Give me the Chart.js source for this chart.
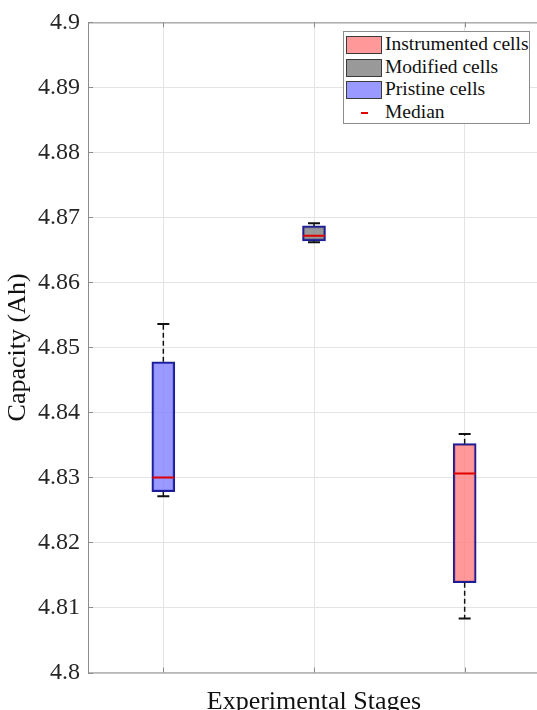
<!DOCTYPE html>
<html>
<head>
<meta charset="utf-8">
<script src="https://cdn.jsdelivr.net/npm/chart.js@4/dist/chart.umd.min.js"></script>
<style>
    html, body { margin: 0; padding: 0; background: white; overflow: hidden; }
    #wrap { position: relative; width: 537px; height: 710px; overflow: hidden; }
    #cap-chart { position: absolute; left: 0; top: 0; }
    #legend-box { position: absolute; left: 343px; top: 31px; width: 185px; height: 91px; border: 1px solid #8c8c8c; background: white; font-family: 'Liberation Serif', 'Times New Roman', serif; font-size: 19.5px; color: #111; }
    .lg-row { position: absolute; left: 0; width: 100%; height: 20px; }
    .lg-swatch { position: absolute; left: 2px; top: 0px; width: 34px; height: 16px; border: 1.3px solid #3a3a3a; }
    .lg-dash { position: absolute; left: 17px; top: 8px; width: 7px; height: 2.5px; background: #e00000; }
    .lg-text { position: absolute; left: 41px; top: -3px; line-height: 22px; white-space: nowrap; }
</style>
</head>
<body>
<div id="wrap">
    <canvas id="cap-chart" width="540" height="710" style="width:540px;height:710px;"></canvas>
    <div id="legend-box"></div>
</div>
<script>
// categories in x order (left to right)
const categories = ['Pristine cells', 'Modified cells', 'Instrumented cells'];
// box plot statistics (Ah)
const whisker_low = [4.8271, 4.8662, 4.8083];
const q1 = [4.8278, 4.8664, 4.8138];
const median = [4.8300, 4.8672, 4.8306];
const q3 = [4.8478, 4.8687, 4.8352];
const whisker_high = [4.8536, 4.8691, 4.8367];
const box_colors = ['rgba(128,128,255,0.8)', 'rgba(128,128,128,0.8)', 'rgba(255,128,128,0.8)'];
const y_ticks = [4.8, 4.81, 4.82, 4.83, 4.84, 4.85, 4.86, 4.87, 4.88, 4.89, 4.9];
const legend_order = ['Instrumented cells', 'Modified cells', 'Pristine cells', 'Median'];

const serif = "'Liberation Serif', 'Times New Roman', serif";
Chart.defaults.font.family = serif;

function box_datasets() {
    let sets = [];
    for (let i = 0; i < categories.length; i++) {
        sets.push({
            type: 'bar',
            label: categories[i],
            data: categories.map((c, j) => j === i ? [q1[i], q3[i]] : null),
            backgroundColor: box_colors[i],
            borderColor: '#1c1c96',
            borderWidth: 2,
            borderSkipped: false,
            barThickness: 23,
            grouped: false,
            order: 3
        });
    }
    return sets;
}

function whisker_points() {
    let pts = [];
    for (let i = 0; i < categories.length; i++) {
        pts.push({ x: categories[i], y: q3[i] });
        pts.push({ x: categories[i], y: whisker_high[i] });
        pts.push({ x: categories[i], y: null });
        pts.push({ x: categories[i], y: q1[i] });
        pts.push({ x: categories[i], y: whisker_low[i] });
        pts.push({ x: categories[i], y: null });
    }
    return pts;
}

// frame round the plot area and MATLAB style inward ticks
const frame_plugin = {
    id: 'frame',
    afterDraw(chart) {
        const ctx = chart.ctx;
        const a = chart.chartArea;
        const xs = chart.scales.x;
        const ys = chart.scales.y;
        ctx.save();
        ctx.strokeStyle = '#8c8c8c';
        ctx.lineWidth = 1;
        ctx.strokeRect(a.left + 0.5, a.top + 0.5, a.right - a.left - 1, a.bottom - a.top);
        ctx.beginPath();
        for (let i = 0; i < xs.ticks.length; i++) {
            let px = Math.round(xs.getPixelForTick(i)) + 0.5;
            ctx.moveTo(px, a.bottom);
            ctx.lineTo(px, a.bottom - 5);
            ctx.moveTo(px, a.top);
            ctx.lineTo(px, a.top + 5);
        }
        for (let i = 0; i < ys.ticks.length; i++) {
            let py = Math.round(ys.getPixelForTick(i)) + 0.5;
            ctx.moveTo(a.left, py);
            ctx.lineTo(a.left + 5, py);
        }
        ctx.stroke();
        ctx.restore();
    }
};

function plot_capacity() {
    let ctx = document.getElementById('cap-chart');
    let datasets = box_datasets();
    datasets.push({
        type: 'line',
        label: 'whiskers',
        data: whisker_points(),
        borderColor: '#111',
        borderWidth: 1.5,
        borderDash: [5, 3],
        pointRadius: 0,
        spanGaps: false,
        order: 2
    });
    datasets.push({
        type: 'line',
        label: 'upper cap',
        data: whisker_high,
        showLine: false,
        pointStyle: 'line',
        pointRadius: 6,
        borderColor: '#111',
        borderWidth: 2,
        order: 1
    });
    datasets.push({
        type: 'line',
        label: 'lower cap',
        data: whisker_low,
        showLine: false,
        pointStyle: 'line',
        pointRadius: 6,
        borderColor: '#111',
        borderWidth: 2,
        order: 1
    });
    datasets.push({
        type: 'line',
        label: 'Median',
        data: median,
        showLine: false,
        pointStyle: 'line',
        pointRadius: 11,
        borderColor: '#e00000',
        borderWidth: 2,
        order: 0
    });

    new Chart(ctx, {
        type: 'bar',
        data: { labels: categories, datasets: datasets },
        options: {
            responsive: false,
            devicePixelRatio: 1,
            animation: false,
            events: [],
            layout: { autoPadding: false, padding: { top: 20.5, left: 0, right: 0, bottom: 0 } },
            scales: {
                x: {
                    offset: true,
                    grid: { offset: false, color: '#e4e4e4', drawTicks: false },
                    border: { display: false },
                    ticks: { display: false },
                    title: {
                        display: true,
                        text: 'Experimental Stages',
                        color: '#111',
                        font: { family: serif, size: 26, lineHeight: 1 },
                        padding: { top: 0, bottom: -5 }
                    },
                    afterFit: (scale) => { scale.height = 37.5; }
                },
                y: {
                    min: 4.8,
                    max: 4.9,
                    afterBuildTicks: (scale) => { scale.ticks = y_ticks.map(v => ({ value: v })); },
                    grid: { color: '#e4e4e4', drawTicks: false },
                    border: { display: false },
                    ticks: {
                        padding: 8,
                        color: '#262626',
                        font: { family: serif, size: 24 },
                        callback: (v) => (+v.toFixed(2)).toString()
                    },
                    title: {
                        display: true,
                        text: 'Capacity (Ah)',
                        color: '#111',
                        font: { family: serif, size: 26, lineHeight: 1 },
                        padding: { top: 5, bottom: 0 }
                    },
                    afterFit: (scale) => { scale.width = 88; }
                }
            },
            plugins: {
                legend: { display: false },
                tooltip: { enabled: false }
            }
        },
        plugins: [frame_plugin]
    });
}

function build_legend() {
    let box = document.getElementById('legend-box');
    let html = '';
    for (let i = 0; i < legend_order.length; i++) {
        let top = 4 + i * 22.6;
        let idx = categories.indexOf(legend_order[i]);
        let mark = idx >= 0
            ? `<div class="lg-swatch" style="background:${box_colors[idx]};"></div>`
            : `<div class="lg-dash"></div>`;
        html += `<div class="lg-row" style="top:${top}px;">${mark}<div class="lg-text">${legend_order[i]}</div></div>`;
    }
    box.innerHTML = html;
}

plot_capacity();
build_legend();
</script>
</body>
</html>
